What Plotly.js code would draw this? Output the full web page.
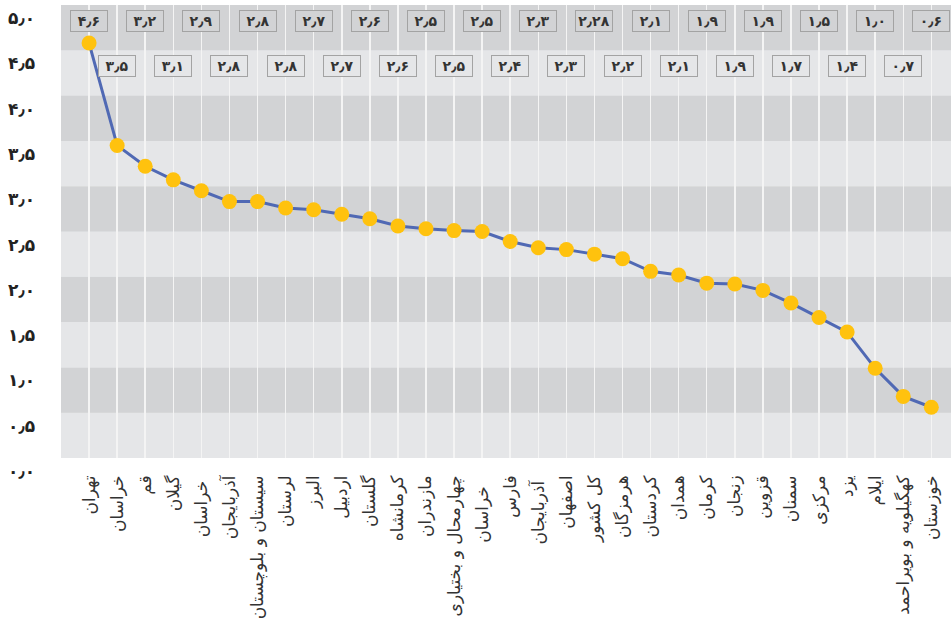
<!DOCTYPE html>
<html>
<head>
<meta charset="utf-8">
<script src="https://cdn.plot.ly/plotly-3.0.1.min.js"></script>
<style>html,body{margin:0;padding:0;background:#fff;}#chart{width:951px;height:623px;}</style>
</head>
<body>
<div id="chart"></div>
<script>
const provinces = ["تهران","خراسان","قم","گیلان","خراسان ","آذربایجان","سیستان و بلوچستان","لرستان","البرز","اردبیل","گلستان","کرمانشاه","مازندران","چهارمحال و بختیاری","خراسان  ","فارس","آذربایجان ","اصفهان","کل کشور","هرمزگان","کردستان","همدان","کرمان","زنجان","قزوین","سمنان","مرکزی","یزد","ایلام","کهگیلویه و بویراحمد","خوزستان"];
const values = [4.58,3.45,3.22,3.07,2.95,2.83,2.83,2.76,2.74,2.69,2.64,2.56,2.53,2.51,2.50,2.39,2.32,2.30,2.25,2.20,2.06,2.02,1.93,1.92,1.85,1.71,1.55,1.39,0.99,0.68,0.56];
const valueLabels = ["۴٫۶","۳٫۵","۳٫۲","۳٫۱","۲٫۹","۲٫۸","۲٫۸","۲٫۸","۲٫۷","۲٫۷","۲٫۶","۲٫۶","۲٫۵","۲٫۵","۲٫۵","۲٫۴","۲٫۳","۲٫۳","۲٫۲۸","۲٫۲","۲٫۱","۲٫۱","۱٫۹","۱٫۹","۱٫۹","۱٫۷","۱٫۵","۱٫۴","۱٫۰","۰٫۷","۰٫۶"];
const yTickVals = [0,0.5,1,1.5,2,2.5,3,3.5,4,4.5,5];
const yTickText = ["۰٫۰","۰٫۵","۱٫۰","۱٫۵","۲٫۰","۲٫۵","۳٫۰","۳٫۵","۴٫۰","۴٫۵","۵٫۰"];

const DARK = "#d2d3d5", LIGHT = "#e5e6e8";
const xs = provinces.map((_, i) => i);

const shapes = [];
for (let k = 0; k < 10; k++) {
  const y0 = k * 0.5;
  shapes.push({type: "rect", layer: "below", xref: "paper", yref: "y", x0: 0, x1: 1, y0: y0, y1: y0 + 0.5,
    fillcolor: (k % 2 === 1) ? DARK : LIGHT, line: {width: 0}});
}

const annotations = valueLabels.map((t, i) => {
  const top = (i % 2 === 0);
  return {x: i, y: top ? 4.82 : 4.33, xref: "x", yref: "y", text: t, showarrow: false,
    font: {family: "DejaVu Sans", size: 14, color: "#333", weight: "bold"},
    bgcolor: top ? DARK : LIGHT, bordercolor: "#a3a3a3", borderwidth: 1, borderpad: 0,
    width: 36, height: 20};
});

yTickVals.forEach((v, i) => {
  annotations.push({x: 0, y: v, xref: "paper", yref: "y", text: yTickText[i], showarrow: false,
    xanchor: "right", yanchor: "middle", xshift: -24, yshift: -13,
    font: {family: "DejaVu Sans", size: 17, color: "#222", weight: "bold"}});
});

const trace = {
  type: "scatter", mode: "lines+markers", x: xs, y: values,
  line: {color: "#5069b4", width: 3},
  marker: {color: "#ffc20e", size: 15, line: {width: 0}},
  hoverinfo: "skip", cliponaxis: false
};

const layout = {
  width: 951, height: 623,
  margin: {l: 61, r: 0, t: 5, b: 165},
  paper_bgcolor: "#ffffff", plot_bgcolor: LIGHT,
  showlegend: false,
  xaxis: {range: [-1, 30.7], tickmode: "array", tickvals: xs, ticktext: provinces, tickangle: -90,
    showgrid: true, gridcolor: "#f4f4f4", gridwidth: 1.5, zeroline: false, showline: false, ticks: "",
    ticklabelstandoff: 13,
    tickfont: {family: "DejaVu Sans", size: 17, color: "#333"}},
  yaxis: {range: [0, 5], tickmode: "array", tickvals: yTickVals, showticklabels: false,
    showgrid: false, zeroline: false, showline: false, ticks: ""},
  shapes: shapes,
  annotations: annotations
};

Plotly.newPlot("chart", [trace], layout, {displayModeBar: false, staticPlot: true});
</script>
</body>
</html>
